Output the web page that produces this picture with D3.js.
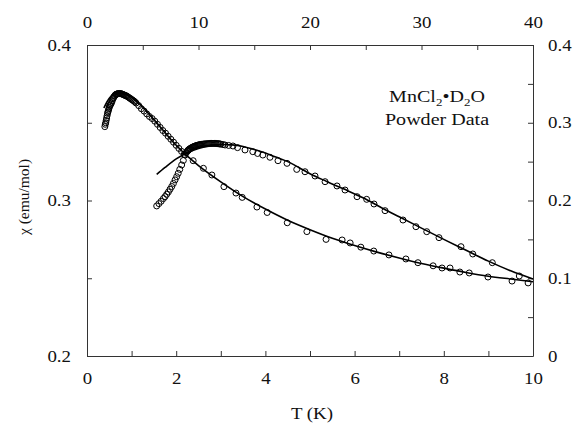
<!DOCTYPE html>
<html>
<head>
<meta charset="utf-8">
<script src="https://cdn.jsdelivr.net/npm/d3@7"></script>
<style>
  body { margin: 0; background: #fff; }
  text { font-family: "Liberation Serif", "Times New Roman", serif; fill: #111; }
</style>
</head>
<body>
<div id="chart"></div>
<script>
// series A: bottom (T, K) / left (chi) axes
let aTemp = [0.40,0.41,0.42,0.43,0.44,0.45,0.46,0.47,0.48,0.49,0.50,0.51,0.52,0.535,0.55,0.565,0.58,0.595,0.61,0.625,
    0.64,0.655,0.67,0.685,0.70,0.72,0.74,0.76,0.78,0.80,0.82,0.84,0.86,0.88,0.90,0.925,0.95,0.975,1.00,1.025,
    1.05,1.075,1.10,1.16,1.22,1.28,1.34,1.40,1.46,1.52,1.58,1.64,1.70,1.76,1.82,1.88,1.94,2.00,2.06,2.12,2.18,
    2.38,2.61,2.80,3.07,3.34,3.48,3.81,4.04,4.49,4.93,5.36,5.72,5.90,6.14,6.43,6.77,7.15,7.42,7.76,7.96,
    8.14,8.36,8.57,8.99,9.53,9.89];
let aChi = [0.3475,0.349,0.350,0.3515,0.353,0.3545,0.356,0.357,0.358,0.359,0.360,0.361,0.3614,0.362,0.363,0.364,0.3655,0.366,0.367,0.3675,
    0.368,0.3683,0.3685,0.3686,0.3687,0.3688,0.3688,0.3687,0.3685,0.3683,0.368,0.3678,0.3675,0.3673,0.367,0.3665,0.366,0.3655,0.365,0.3645,
    0.364,0.3634,0.3627,0.361,0.359,0.3575,0.3557,0.354,0.3527,0.351,0.349,0.347,0.345,0.3433,0.3413,0.3394,0.3375,0.3355,0.3335,0.3316,0.3297,
    0.3256,0.3207,0.3164,0.3089,0.3048,0.302,0.2958,0.2923,0.2857,0.280,0.275,0.2746,0.2727,0.270,0.2675,0.265,0.2624,0.260,0.258,0.2566,
    0.2566,0.254,0.2534,0.2508,0.2482,0.247];
let aFitTemp = [0.38,0.45,0.55,0.65,0.75,0.85,1.0,1.2,1.5,1.8,2.0,2.25,2.5,3.0,3.5,4.0,4.5,5.0,5.5,6.0,6.5,7.0,7.5,8.0,8.5,9.0,9.5,10.0];
let aFitChi = [0.3595,0.3635,0.3675,0.369,0.3692,0.3685,0.3663,0.3615,0.352,0.342,0.3355,0.3285,0.3225,0.312,0.3025,0.2945,0.2873,0.2812,
    0.2757,0.271,0.2668,0.263,0.2595,0.2565,0.2537,0.2513,0.2495,0.2478];

// series B: top (T) / right (chi) axes
let bTemp = [6.25,6.45,6.65,6.85,7.0,7.15,7.3,7.45,7.6,7.75,7.9,8.04,8.18,8.32,8.49,8.64,8.79,8.9,9.0,9.05,
    9.1,9.15,9.2,9.25,9.3,9.375,9.45,9.525,9.6,9.675,9.75,9.825,9.9,9.975,10.05,10.125,10.2,10.3,10.4,10.5,
    10.6,10.7,10.8,10.9,11.0,11.1,11.2,11.3,11.4,11.5,11.6,11.7,11.8,11.9,12.0,12.2,12.38,12.7,13.09,
    13.5,14.17,14.87,15.3,15.77,16.41,17.13,17.94,18.81,19.55,20.45,21.35,22.42,23.14,24.22,25.08,25.74,26.73,28.34,29.5,
    30.47,31.57,33.54,34.6,36.35,38.77];
let bChi = [0.193,0.196,0.199,0.2025,0.205,0.208,0.211,0.2145,0.218,0.222,0.2265,0.2306,0.235,0.240,0.2457,0.2515,0.2585,0.2615,0.2635,0.2643,
    0.265,0.2656,0.2662,0.2667,0.2672,0.2679,0.2685,0.269,0.2695,0.2699,0.2703,0.2707,0.271,0.2713,0.2715,0.2718,0.272,0.2723,0.2725,0.2727,
    0.2728,0.2729,0.273,0.2732,0.2733,0.2734,0.2735,0.2735,0.2735,0.2734,0.2733,0.2732,0.273,0.2728,0.2725,0.272,0.2714,0.2708,0.2701,
    0.268,0.265,0.2628,0.2605,0.2585,0.2556,0.2512,0.2478,0.240,0.237,0.2315,0.2242,0.2187,0.2135,0.2049,0.2015,0.1955,0.1869,0.1749,0.1663,
    0.1599,0.1522,0.1406,0.1312,0.12,0.1029];
let bFitTemp = [6.25,7.0,8.0,9.0,10.0,11.0,12.0,13.0,14.0,15.0,16.0,17.0,18.0,19.0,20.0,21.5,23.0,24.75,26.5,28.0,30.0,32.0,34.0,36.0,38.0,40.0];
let bFitChi = [0.2335,0.2425,0.2535,0.2615,0.267,0.2705,0.272,0.2715,0.2695,0.2655,0.261,0.2555,0.250,0.2425,0.2345,0.2245,0.215,0.2035,
    0.19,0.179,0.1645,0.15,0.136,0.122,0.1095,0.099];

// ticks
let bottomTicks = [0,1,2,3,4,5,6,7,8,9,10];
let leftTicks = [0.2,0.25,0.3,0.35,0.4];
let topTicks = [0,5,10,15,20,25,30,35,40];
let rightTicks = [0,0.05,0.1,0.15,0.2,0.25,0.3,0.35,0.4];

let width = 577, height = 425;
let margin = {top: 45, right: 44, bottom: 69, left: 87};
let pw = width - margin.left - margin.right;
let ph = height - margin.top - margin.bottom;
let stretch = 1.18;

let svg = d3.select("#chart")
    .append("svg")
    .attr("width", width)
    .attr("height", height)
    .append("g")
    .attr("transform", `translate(${margin.left}, ${margin.top})`);

let x = d3.scaleLinear().domain([0, 10]).range([0, pw]);
let xTop = d3.scaleLinear().domain([0, 40]).range([0, pw]);
let y = d3.scaleLinear().domain([0.2, 0.4]).range([ph, 0]);
let yRight = d3.scaleLinear().domain([0, 0.4]).range([ph, 0]);

function styleAxis(g) {
    g.select(".domain").attr("stroke", "#333").attr("stroke-width", 1);
    g.selectAll(".tick line").attr("stroke", "#333");
    g.selectAll("text").style("font-size", "16px").attr("fill", "#111");
}

svg.append("g")
    .attr("transform", `translate(0, ${ph})`)
    .call(d3.axisBottom(x).tickValues(bottomTicks)
        .tickFormat(d => d % 2 === 0 ? d : "")
        .tickSizeInner(-5).tickSizeOuter(0).tickPadding(17))
    .call(styleAxis);

svg.append("g")
    .call(d3.axisLeft(y).tickValues(leftTicks)
        .tickFormat((d, i) => i % 2 === 0 ? d3.format(".1f")(d) : "")
        .tickSizeInner(-5).tickSizeOuter(0).tickPadding(16))
    .call(styleAxis);

svg.append("g")
    .call(d3.axisTop(xTop).tickValues(topTicks)
        .tickFormat((d, i) => i % 2 === 0 ? d : "")
        .tickSizeInner(-5).tickSizeOuter(0).tickPadding(17))
    .call(styleAxis);

svg.append("g")
    .attr("transform", `translate(${pw}, 0)`)
    .call(d3.axisRight(yRight).tickValues(rightTicks)
        .tickFormat((d, i) => i === 0 ? "0" : (i % 2 === 0 ? d3.format(".1f")(d) : ""))
        .tickSizeInner(-5).tickSizeOuter(0).tickPadding(15))
    .call(styleAxis);

// data circles
let aPoints = aTemp.map((t, i) => ({t: t, c: aChi[i]}));
let bPoints = bTemp.map((t, i) => ({t: t, c: bChi[i]}));

svg.append("g").selectAll("circle")
    .data(aPoints)
    .enter()
    .append("circle")
    .attr("cx", d => x(d.t))
    .attr("cy", d => y(d.c))
    .attr("r", 3)
    .attr("fill", "none")
    .attr("stroke", "#000")
    .attr("stroke-width", 1);

svg.append("g").selectAll("circle")
    .data(bPoints)
    .enter()
    .append("circle")
    .attr("cx", d => xTop(d.t))
    .attr("cy", d => yRight(d.c))
    .attr("r", 3)
    .attr("fill", "none")
    .attr("stroke", "#000")
    .attr("stroke-width", 1);

// fit curves
let lineA = d3.line().x(d => x(d.t)).y(d => y(d.c)).curve(d3.curveMonotoneX);
let lineB = d3.line().x(d => xTop(d.t)).y(d => yRight(d.c)).curve(d3.curveMonotoneX);

svg.append("path")
    .datum(aFitTemp.map((t, i) => ({t: t, c: aFitChi[i]})))
    .attr("d", lineA)
    .attr("fill", "none")
    .attr("stroke", "#000")
    .attr("stroke-width", 1.6);

svg.append("path")
    .datum(bFitTemp.map((t, i) => ({t: t, c: bFitChi[i]})))
    .attr("d", lineB)
    .attr("fill", "none")
    .attr("stroke", "#000")
    .attr("stroke-width", 1.6);

// axis titles
svg.append("text")
    .attr("x", 312 - margin.left)
    .attr("y", 419 - margin.top)
    .style("text-anchor", "middle")
    .style("font-size", "16px")
    .attr("class", "wide")
    .text("T (K)");

svg.append("text")
    .attr("transform", `translate(${29 - margin.left}, ${197 - margin.top}) rotate(-90)`)
    .style("text-anchor", "middle")
    .style("font-size", "15.5px")
    .text("χ (emu/mol)");

// annotation
let note = svg.append("g")
    .attr("transform", `translate(${437 - margin.left}, 0) scale(${stretch}, 1)`);

let line1 = note.append("text")
    .attr("x", 0)
    .attr("y", 102 - margin.top)
    .style("text-anchor", "middle")
    .style("font-size", "17px");
line1.append("tspan").text("MnCl");
line1.append("tspan").attr("dy", 4).style("font-size", "11px").text("2");
line1.append("tspan").attr("dy", -4).text("•D");
line1.append("tspan").attr("dy", 4).style("font-size", "11px").text("2");
line1.append("tspan").attr("dy", -4).text("O");

note.append("text")
    .attr("x", 0)
    .attr("y", 125 - margin.top)
    .style("text-anchor", "middle")
    .style("font-size", "17px")
    .text("Powder Data");

// the source picture is a bit wider than tall, stretch tick labels to match
svg.selectAll(".tick text, text.wide").each(function() {
    let len = this.getComputedTextLength();
    if (len > 0) {
        d3.select(this)
            .attr("textLength", len * stretch)
            .attr("lengthAdjust", "spacingAndGlyphs");
    }
});
</script>
</body>
</html>
